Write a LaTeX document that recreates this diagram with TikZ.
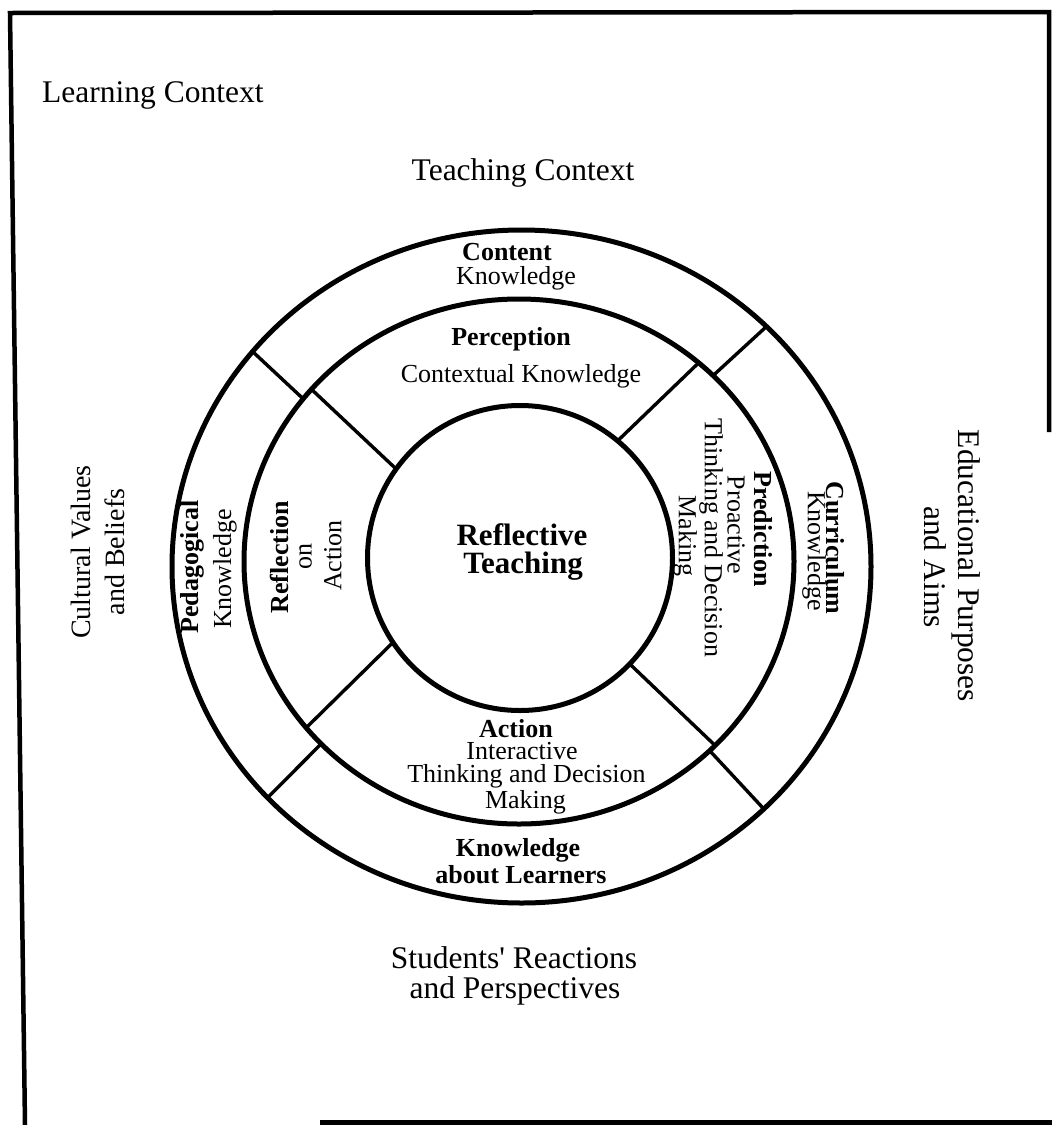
\documentclass[tikz,border=0pt]{standalone}
\usepackage{fontspec}
\setmainfont{Liberation Serif}[Ligatures=TeXOff]
\begin{document}
\begin{tikzpicture}[x=1pt,y=1pt,
  ring/.style={line width=5pt},
  divider/.style={line width=3.4pt},
  frameline/.style={line width=4.5pt},
  ctx/.style={inner sep=0pt, font=\fontsize{31.5}{31.5}\selectfont},
  ctxs/.style={inner sep=0pt, font=\fontsize{28}{28}\selectfont},
  lbl/.style={inner sep=0pt, font=\fontsize{26}{26}\selectfont},
  lblb/.style={inner sep=0pt, font=\fontsize{26}{26}\selectfont\bfseries},
  core/.style={inner sep=0pt, font=\fontsize{31}{31}\selectfont\bfseries},
]
\useasboundingbox (0,0) rectangle (1052,-1125);

% outer frame (open at the lower left and right)
\draw[frameline] (25,-1125) -- (10,-13) -- (1049,-12) -- (1049,-432);
\draw[frameline] (320,-1122.5) -- (1052,-1122.5);

% centres of the three rings
\coordinate (O) at (521.5,-566.5);
\coordinate (M) at (519,-561.5);
\coordinate (I) at (520,-558);

\draw[ring] (O) ellipse [x radius=349.5, y radius=336.5];
\draw[ring] (M) ellipse [x radius=275, y radius=262.5];
\draw[ring] (I) circle [radius=152.5];

% dividers of the outer ring
\draw[divider] ([shift={(O)}]140.3:349.5 and 336.5) -- ([shift={(M)}]141.7:275 and 262.5);
\draw[divider] ([shift={(O)}]45.5:349.5 and 336.5) -- ([shift={(M)}]45.1:275 and 262.5);
\draw[divider] ([shift={(O)}]223.4:349.5 and 336.5) -- ([shift={(M)}]224:275 and 262.5);
\draw[divider] ([shift={(O)}]313.9:349.5 and 336.5) -- ([shift={(M)}]313.9:275 and 262.5);

% dividers of the middle ring
\draw[divider] ([shift={(M)}]139:275 and 262.5) -- ([shift={(I)}]144.3:152.5);
\draw[divider] ([shift={(M)}]49.2:275 and 262.5) -- ([shift={(I)}]50.2:152.5);
\draw[divider] ([shift={(M)}]219.3:275 and 262.5) -- ([shift={(I)}]213.6:152.5);
\draw[divider] ([shift={(M)}]315.5:275 and 262.5) -- ([shift={(I)}]316:152.5);

% surrounding contexts
\node[ctx, anchor=west] (learn) at (42,-95) {Learning Context};
\node[ctx] (teach) at (523,-173) {Teaching Context};
\node[ctx] (stud1) at (514,-958) {Students' Reactions};
\node[ctx] (stud2) at (515,-991) {and Perspectives};
\node[ctxs, rotate=90] (cult1) at (81,-552) {Cultural Values};
\node[ctxs, rotate=90] (cult2) at (115,-552) {and Beliefs};
\node[ctx, rotate=-90] (edu1) at (966,-566) {Educational Purposes};
\node[ctx, rotate=-90] (edu2) at (935,-567) {and Aims};

% centre
\node[core] (refl1) at (522,-535) {Reflective};
\node[core] (refl2) at (523,-566) {Teaching};

% outer ring: knowledge bases
\node[lblb] (cont1) at (507,-252) {Content};
\node[lbl] (cont2) at (516,-278) {Knowledge};
\node[lblb] (lrn1) at (518,-850) {Knowledge};
\node[lblb] (lrn2) at (521,-875) {about Learners};
\node[lblb, rotate=90] (ped1) at (192,-567) {Pedagogical};
\node[lbl, rotate=90] (ped2) at (225,-569) {Knowledge};
\node[lblb, rotate=-90] (cur1) at (835,-548) {Curriculum};
\node[lbl, rotate=-90] (cur2) at (814,-551) {Knowledge};

% middle ring: phases
\node[lblb] (perc1) at (511,-339) {Perception};
\node[lbl] (perc2) at (521,-376) {Contextual Knowledge};
\node[lblb] (act1) at (516,-729) {Action};
\node[lbl] (act2) at (522,-751) {Interactive};
\node[lbl] (act3) at (526.5,-776.5) {Thinking and Decision};
\node[lbl] (act4) at (525.5,-802) {Making};
\node[lblb, rotate=90] (ron1) at (279,-557) {Reflection};
\node[lbl, rotate=90] (ron2) at (305.5,-556.5) {on};
\node[lbl, rotate=90] (ron3) at (333,-555.5) {Action};
\node[lblb, rotate=-90] (pred1) at (763,-529) {Prediction};
\node[lbl, rotate=-90] (pred2) at (736,-525) {Proactive};
\node[lbl, rotate=-90] (pred3) at (711,-538) {Thinking and Decision};
\node[lbl, rotate=-90] (pred4) at (685,-536) {Making};
\end{tikzpicture}
\end{document}
